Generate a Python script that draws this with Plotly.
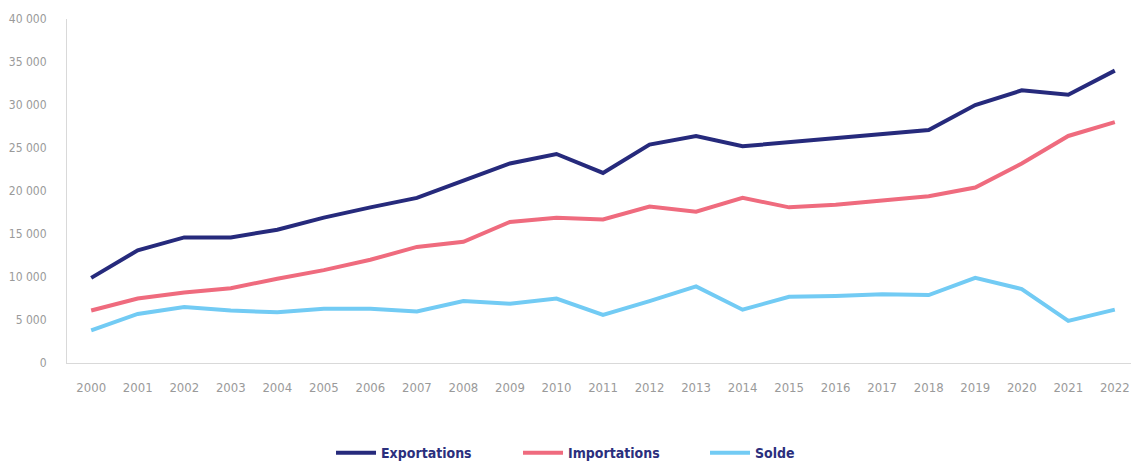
import plotly.graph_objects as go

annees = [str(a) for a in range(2000, 2023)]

exportations = [9900, 13100, 14600, 14600, 15500, 16900, 18100, 19200, 21200, 23200,
                24300, 22100, 25400, 26400, 25200, 25700, 26200, 26600, 27100, 30000,
                31700, 31200, 34000]
importations = [6100, 7500, 8200, 8700, 9800, 10800, 12000, 13500, 14100, 16400,
                16900, 16700, 18200, 17600, 19200, 18100, 18400, 18900, 19400, 20400,
                23200, 26400, 28000]
solde = [3800, 5700, 6500, 6100, 5900, 6300, 6300, 6000, 7200, 6900,
         7500, 5600, 7200, 8900, 6200, 7700, 7800, 8000, 7900, 9900,
         8600, 4900, 6200]

series = [
    ("Exportations", exportations, "#262a7c"),
    ("Importations", importations, "#ef6b7e"),
    ("Solde", solde, "#72cbf4"),
]

police = "DejaVu Sans Condensed, Liberation Sans Narrow, sans-serif"

fig = go.Figure()
for nom, valeurs, couleur in series:
    fig.add_trace(go.Scatter(
        x=annees, y=valeurs, name=nom, mode="lines",
        line=dict(color=couleur, width=4),
    ))

# la page ajoute une marge de 8 px autour du graphique
fig.update_layout(
    width=1131, height=454,
    margin=dict(l=59, r=0, t=11, b=99, autoexpand=False),
    paper_bgcolor="white", plot_bgcolor="white",
    separators=", ",
    font=dict(family=police, size=13, color="#9a9a9a"),
    showlegend=True,
    legend=dict(
        orientation="h", xref="container", x=0.2856, xanchor="left",
        y=-0.262, yanchor="middle",
        font=dict(family=police, size=14, color="#2b2f7d", weight="bold"),
        itemwidth=40, entrywidth=132, entrywidthmode="pixels", tracegroupgap=0,
    ),
    xaxis=dict(
        type="category", range=[-0.52, 22.52], automargin=False,
        showgrid=False, showline=True, linecolor="#d9d9d9", linewidth=1,
        ticks="", ticklabelstandoff=12,
        tickfont=dict(size=13, color="#9a9a9a"),
    ),
    yaxis=dict(
        range=[0, 40000], dtick=5000, tickformat=",d", automargin=False,
        showgrid=False, zeroline=False, showline=True, linecolor="#d9d9d9", linewidth=1,
        ticks="", ticklabelstandoff=17,
        tickfont=dict(size=12, color="#9a9a9a"),
    ),
)

fig.write_html("out.html")
